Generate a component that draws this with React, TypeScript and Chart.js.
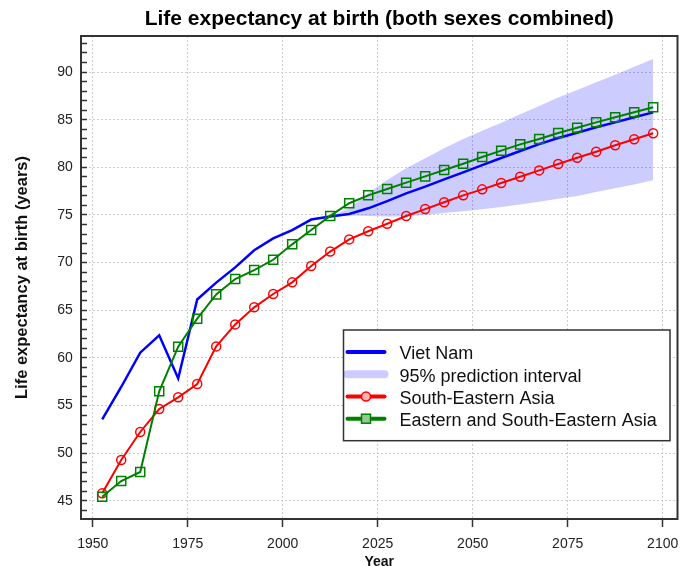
import React, { useEffect, useRef } from 'react';
import { Chart, registerables } from 'chart.js';

Chart.register(...registerables);

const FONT = '"Liberation Sans", Arial, Helvetica, sans-serif';

const chartTitle = 'Life expectancy at birth (both sexes combined)';
const xAxisTitle = 'Year';
const yAxisTitle = 'Life expectancy at birth (years)';

const years = [
  1952.5, 1957.5, 1962.5, 1967.5, 1972.5, 1977.5, 1982.5, 1987.5, 1992.5, 1997.5,
  2002.5, 2007.5, 2012.5, 2017.5, 2022.5, 2027.5, 2032.5, 2037.5, 2042.5, 2047.5,
  2052.5, 2057.5, 2062.5, 2067.5, 2072.5, 2077.5, 2082.5, 2087.5, 2092.5, 2097.5,
];

const vietNam = [
  53.56, 56.95, 60.55, 62.37, 57.85, 66.13, 67.9, 69.5, 71.3, 72.55,
  73.42, 74.52, 74.85, 75.1, 75.7, 76.46, 77.27, 77.97, 78.74, 79.47,
  80.24, 80.98, 81.71, 82.44, 83.07, 83.63, 84.2, 84.72, 85.25, 85.77,
];

const southEasternAsia = [
  45.79, 49.29, 52.23, 54.64, 55.87, 57.26, 61.21, 63.52, 65.31, 66.71,
  67.93, 69.64, 71.16, 72.44, 73.29, 74.08, 74.89, 75.62, 76.33, 77.06,
  77.69, 78.35, 79.01, 79.68, 80.35, 81.01, 81.64, 82.31, 82.94, 83.57,
];

const easternSouthEasternAsia = [
  45.44, 47.08, 48.03, 56.5, 61.18, 64.12, 66.67, 68.28, 69.22, 70.3,
  71.92, 73.42, 74.9, 76.23, 77.06, 77.72, 78.39, 79.05, 79.72, 80.38,
  81.08, 81.75, 82.41, 82.97, 83.6, 84.16, 84.72, 85.25, 85.77, 86.3,
];

const bandYears = [
  2012.5, 2017.5, 2022.5, 2027.5, 2032.5, 2037.5, 2042.5, 2047.5, 2052.5,
  2057.5, 2062.5, 2067.5, 2072.5, 2077.5, 2082.5, 2087.5, 2092.5, 2097.5,
];

const bandUpper = [
  74.85, 75.7, 77.3, 78.67, 79.9, 80.94, 81.99, 82.97, 83.84,
  84.68, 85.56, 86.43, 87.34, 88.11, 88.92, 89.72, 90.56, 91.36,
];

const bandLower = [
  74.85, 74.95, 74.9, 74.85, 74.85, 75.0, 75.2, 75.4, 75.6,
  75.85, 76.1, 76.4, 76.7, 77.0, 77.4, 77.8, 78.2, 78.65,
];

const xTickValues = [1950, 1975, 2000, 2025, 2050, 2075, 2100];
const yMajorTickValues = [45, 50, 55, 60, 65, 70, 75, 80, 85, 90];
const yMinorFrom = 44;
const yMinorTo = 93;

const legendLabels = [
  'Viet Nam',
  '95% prediction interval',
  'South-Eastern Asia',
  'Eastern and South-Eastern Asia',
];

const BLUE = '#0000ff';
const BAND = 'rgba(0, 0, 255, 0.2)';
const RED = '#ff0000';
const GREEN = '#008000';

const toPoints = (xs: number[], ys: number[]) => xs.map((x, i) => ({ x, y: ys[i] }));

const frameAndLegend = {
  id: 'frameAndLegend',
  afterDatasetsDraw(chart: any) {
    const { ctx, chartArea: a } = chart;
    ctx.save();
    // frame
    ctx.setLineDash([]);
    ctx.strokeStyle = '#333';
    ctx.lineWidth = 2;
    ctx.strokeRect(a.left, a.top, a.right - a.left, a.bottom - a.top);

    // legend box
    const bw = 326.5;
    const bh = 110.7;
    const bx = a.right - 7.5 - bw;
    const by = a.bottom - 78.3 - bh;
    ctx.fillStyle = '#ffffff';
    ctx.fillRect(bx, by, bw, bh);
    ctx.lineWidth = 1.5;
    ctx.strokeStyle = '#333';
    ctx.strokeRect(bx, by, bw, bh);

    const x1 = bx + 4;
    const x2 = bx + 41;
    const xm = (x1 + x2) / 2;
    ctx.font = '18px ' + FONT;
    ctx.textAlign = 'left';
    ctx.textBaseline = 'alphabetic';
    legendLabels.forEach((label, i) => {
      const base = by + 29.3 + i * 22.2;
      const sy = base - 7.2;
      ctx.lineCap = 'round';
      if (i === 1) {
        ctx.strokeStyle = BAND;
        ctx.lineWidth = 8;
      } else {
        ctx.strokeStyle = i === 0 ? BLUE : i === 2 ? RED : GREEN;
        ctx.lineWidth = 4;
      }
      ctx.beginPath();
      ctx.moveTo(x1, sy);
      ctx.lineTo(x2, sy);
      ctx.stroke();
      ctx.lineCap = 'butt';
      if (i === 2) {
        ctx.lineWidth = 1.5;
        ctx.strokeStyle = RED;
        ctx.fillStyle = 'rgba(255,180,180,1)';
        ctx.beginPath();
        ctx.arc(xm, sy, 4.5, 0, Math.PI * 2);
        ctx.fill();
        ctx.stroke();
      } else if (i === 3) {
        ctx.lineWidth = 1.5;
        ctx.strokeStyle = GREEN;
        ctx.fillStyle = 'rgba(150,200,150,1)';
        ctx.fillRect(xm - 4.5, sy - 4.5, 9, 9);
        ctx.strokeRect(xm - 4.5, sy - 4.5, 9, 9);
      }
      ctx.fillStyle = '#111';
      ctx.fillText(label, bx + 56, base);
    });
    ctx.restore();
  },
};

export default function App() {
  const canvasRef = useRef<HTMLCanvasElement | null>(null);

  useEffect(() => {
    const canvas = canvasRef.current;
    if (!canvas) return;

    const chart = new Chart(canvas, {
      type: 'line',
      data: {
        datasets: [
          {
            label: legendLabels[3],
            data: toPoints(years, easternSouthEasternAsia),
            borderColor: GREEN,
            borderWidth: 2,
            pointStyle: 'rect',
            pointRadius: 6.4,
            pointBorderWidth: 1.5,
            pointBorderColor: GREEN,
            pointBackgroundColor: 'rgba(0,0,0,0)',
            fill: false,
            tension: 0,
          },
          {
            label: legendLabels[2],
            data: toPoints(years, southEasternAsia),
            borderColor: RED,
            borderWidth: 2,
            pointStyle: 'circle',
            pointRadius: 4.5,
            pointBorderWidth: 1.5,
            pointBorderColor: RED,
            pointBackgroundColor: 'rgba(0,0,0,0)',
            fill: false,
            tension: 0,
          },
          {
            label: legendLabels[0],
            data: toPoints(years, vietNam),
            borderColor: BLUE,
            borderWidth: 2.5,
            pointRadius: 0,
            fill: false,
            tension: 0,
          },
          {
            label: legendLabels[1],
            data: toPoints(bandYears, bandUpper),
            borderWidth: 0,
            borderColor: 'rgba(0,0,0,0)',
            backgroundColor: BAND,
            pointRadius: 0,
            fill: '+1',
            tension: 0,
          },
          {
            label: legendLabels[1] + ' (lower)',
            data: toPoints(bandYears, bandLower),
            borderWidth: 0,
            borderColor: 'rgba(0,0,0,0)',
            backgroundColor: BAND,
            pointRadius: 0,
            fill: false,
            tension: 0,
          },
        ],
      },
      options: {
        responsive: false,
        animation: false,
        devicePixelRatio: 1,
        layout: { padding: { left: 0, right: 18.5, top: 0, bottom: 0 } },
        plugins: {
          legend: { display: false },
          tooltip: { enabled: false },
          title: {
            display: true,
            text: chartTitle,
            fullSize: false,
            color: '#000',
            font: { family: FONT, size: 21, weight: 'bold' },
            padding: { top: 6.8, bottom: 4 },
          },
        },
        scales: {
          x: {
            type: 'linear',
            position: 'bottom',
            min: 1946.92,
            max: 2103.9,
            afterBuildTicks: (scale: any) => {
              scale.ticks = xTickValues.map((v) => ({ value: v }));
            },
            afterFit: (scale: any) => {
              scale.height = 47;
            },
            ticks: {
              autoSkip: false,
              maxRotation: 0,
              padding: 9.1,
              color: '#222',
              font: { family: FONT, size: 14 },
              callback: (v: any) => String(v),
            },
            grid: {
              color: '#cccccc',
              lineWidth: 1,
              drawTicks: true,
              tickLength: 8,
              tickColor: '#333',
              tickWidth: 1.5,
            },
            border: { display: false, dash: [2, 2] },
            title: {
              display: true,
              text: xAxisTitle,
              color: '#111',
              font: { family: FONT, size: 14, weight: 'bold' },
              padding: { top: 0, bottom: -4.3 },
            },
          },
          y: {
            type: 'linear',
            position: 'left',
            min: 43.1,
            max: 93.78,
            afterBuildTicks: (scale: any) => {
              const t = [] as { value: number }[];
              for (let v = yMinorFrom; v <= yMinorTo; v++) t.push({ value: v });
              scale.ticks = t;
            },
            afterFit: (scale: any) => {
              scale.width = 81;
            },
            ticks: {
              autoSkip: false,
              padding: 14.3,
              color: '#222',
              font: { family: FONT, size: 14 },
              callback: (v: any) => (yMajorTickValues.includes(Number(v)) ? String(v) : ''),
            },
            grid: {
              color: (c: any) =>
                c.tick && yMajorTickValues.includes(c.tick.value) ? '#cccccc' : 'rgba(0,0,0,0)',
              lineWidth: 1,
              drawTicks: true,
              tickLength: -6,
              tickColor: '#333',
              tickWidth: 1.5,
            },
            border: { display: false, dash: [2, 2] },
            title: {
              display: true,
              text: yAxisTitle,
              color: '#111',
              font: { family: FONT, size: 16.5, weight: 'bold' },
              padding: { top: 12.4, bottom: 0 },
            },
          },
        },
      },
      plugins: [frameAndLegend],
    } as any);

    return () => {
      chart.destroy();
    };
  }, []);

  return (
    <div style={{ position: 'absolute', left: 0, top: 0, width: 696, height: 566, background: '#fff' }}>
      <canvas ref={canvasRef} width={696} height={566} style={{ display: 'block' }} />
    </div>
  );
}
